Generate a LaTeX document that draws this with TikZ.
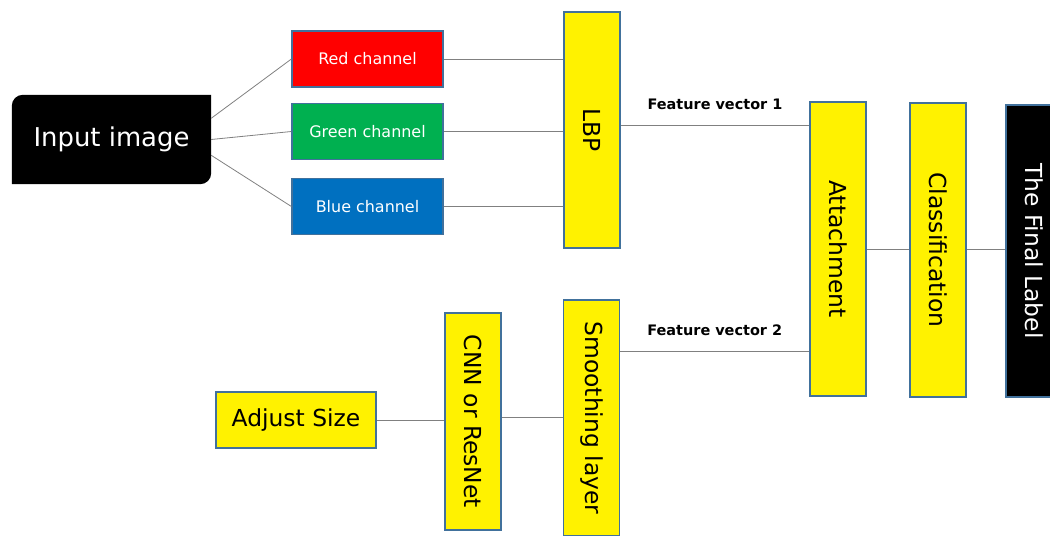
\documentclass[tikz,border=0pt]{standalone}
\usepackage{fontspec}
\setmainfont{DejaVu Sans}
\usepackage{xcolor}
\definecolor{boxedge}{HTML}{41719C}
\definecolor{redch}{HTML}{FF0000}
\definecolor{greench}{HTML}{00B050}
\definecolor{bluech}{HTML}{0070C0}
\definecolor{linkgray}{HTML}{808080}
\usepackage{tikz}
\usetikzlibrary{positioning,calc,backgrounds}

\begin{document}
\begin{tikzpicture}[x=1bp,y=-1bp,
  block/.style={draw=boxedge,line width=1.2bp,inner sep=0pt,align=center},
  chan/.style={block,minimum width=151bp,minimum height=56bp,text=white,font=\fontsize{16}{19}\selectfont},
  tall/.style={block,fill=yellow,minimum width=56bp,font=\fontsize{23.5}{28}\selectfont},
  link/.style={draw=linkgray,line width=0.8bp},
  fv/.style={font=\fontsize{14.5}{17}\selectfont\bfseries}]
\useasboundingbox (0,0) rectangle (1050,536);
% input side
\node[text=white,inner sep=0pt,minimum width=199bp,minimum height=89bp,
  font=\fontsize{26}{30}\selectfont] (in) at (111.5,139.5) {Input image};
\begin{scope}[on background layer]
\fill[black] (in.south west) -- ([yshift=-11bp]in.north west)
  to[out=90,in=180] ([xshift=11bp]in.north west) -- (in.north east)
  -- ([yshift=11bp]in.south east) to[out=-90,in=0] ([xshift=-11bp]in.south east) -- cycle;
\end{scope}
\node[chan,fill=redch] (red) at (367.5,59) {Red channel};
\node[chan,fill=greench] (green) at (367.5,131.5) {Green channel};
\node[chan,fill=bluech] (blue) at (367.5,206.5) {Blue channel};
\node[tall,minimum height=236bp] (lbp) at (592,130) {\rotatebox{-90}{LBP}};
% second branch
\node[block,fill=yellow,minimum width=160bp,minimum height=56bp,font=\fontsize{23.5}{28}\selectfont] (adj) at (296,420) {Adjust Size};
\node[tall,minimum height=217bp] (cnn) at (473,421.5) {\rotatebox{-90}{CNN or ResNet}};
\node[tall,minimum height=236bp] (smooth) at (591.5,418) {\rotatebox{-90}{Smoothing layer}};
% output side
\node[tall,minimum height=294bp] (att) at (838,249) {\rotatebox{-90}{Attachment}};
\node[tall,minimum height=294bp] (cls) at (938,250) {\rotatebox{-90}{Classification}};
\node[block,fill=black,text=white,minimum width=56bp,minimum height=292bp,
  font=\fontsize{23.5}{28}\selectfont] (final) at (1034,251) {\rotatebox{-90}{The Final Label}};
% connectors
\draw[link] (in.12) -- (red.west);
\draw[link] (in.east) -- (green.west);
\draw[link] (in.-9) -- (blue.west);
\draw[link] (red.east) -- (red.east -| lbp.west);
\draw[link] (green.east) -- (green.east -| lbp.west);
\draw[link] (blue.east) -- (blue.east -| lbp.west);
\draw[link] ($(lbp.north east)!0.48!(lbp.south east)$) coordinate (fv1) -- (fv1 -| att.west)
  node[fv,midway,above=12bp] {Feature vector 1};
\draw[link] ($(smooth.north east)!0.22!(smooth.south east)$) coordinate (fv2) -- (fv2 -| att.west)
  node[fv,midway,above=12bp] {Feature vector 2};
\draw[link] (adj.east) -- (adj.east -| cnn.west);
\draw[link] ($(cnn.north east)!0.48!(cnn.south east)$) coordinate (cs) -- (cs -| smooth.west);
\draw[link] (att.east) -- (att.east -| cls.west);
\draw[link] (att.east -| cls.east) -- (att.east -| final.west);
\end{tikzpicture}
\end{document}
